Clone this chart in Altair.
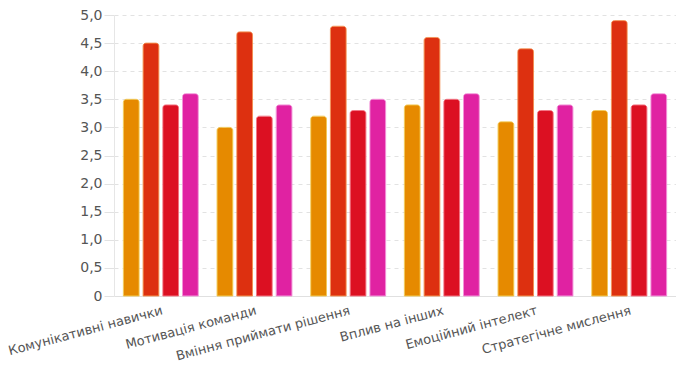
import altair as alt
import pandas as pd

categories = ["Комунікативні навички", "Мотивація команди", "Вміння приймати рішення",
              "Вплив на інших", "Емоційний інтелект", "Стратегічне мислення"]
series = ["Серія 1", "Серія 2", "Серія 3", "Серія 4"]
values = {
    "Серія 1": [3.5, 3.0, 3.2, 3.4, 3.1, 3.3],
    "Серія 2": [4.5, 4.7, 4.8, 4.6, 4.4, 4.9],
    "Серія 3": [3.4, 3.2, 3.3, 3.5, 3.3, 3.4],
    "Серія 4": [3.6, 3.4, 3.5, 3.6, 3.4, 3.6],
}
colors = ["#E68A00", "#DD3010", "#DC1022", "#E022A2"]
edges = ["#F0C040", "#F08040", "#F06070", "#F080D0"]

rows = []
for s in series:
    for c, v in zip(categories, values[s]):
        rows.append({"cat": c, "series": s, "value": v})
df = pd.DataFrame(rows)

chart = alt.Chart(df).mark_bar(
    cornerRadiusTopLeft=3, cornerRadiusTopRight=3, strokeWidth=0.8
).encode(
    x=alt.X("cat:N", sort=categories, title=None,
            scale=alt.Scale(paddingInner=0.2, paddingOuter=0.1),
            axis=alt.Axis(labelAngle=-15, labelAlign="right", labelBaseline="top",
                          labelFontSize=13, labelColor="#555", labelFont="DejaVu Sans",
                          ticks=False, domainColor="#e0e0e0", labelPadding=8,
                          labelLimit=300, labelOverlap=False)),
    xOffset=alt.XOffset("series:N", sort=series, scale=alt.Scale(paddingInner=0.2)),
    y=alt.Y("value:Q", title=None, scale=alt.Scale(domain=[0, 5]),
            axis=alt.Axis(values=[0, 0.5, 1, 1.5, 2, 2.5, 3, 3.5, 4, 4.5, 5],
                          labelExpr="datum.value == 0 ? '0' : replace(format(datum.value, '.1f'), '.', ',')",
                          labelFontSize=14, labelColor="#555", labelFont="DejaVu Sans",
                          ticks=True, tickSize=10, tickColor="#e2e2e2",
                          domainColor="#e6e6e6", gridColor="#e2e2e2",
                          gridDash=[4, 4], labelPadding=2)),
    color=alt.Color("series:N", sort=series, scale=alt.Scale(domain=series, range=colors), legend=None),
    stroke=alt.Stroke("series:N", sort=series, scale=alt.Scale(domain=series, range=edges), legend=None),
).properties(
    width=562, height=281,
    autosize=alt.AutoSizeParams(type="none"),
    padding={"left": 114, "top": 15, "right": 0, "bottom": 81},
).configure_view(stroke=None)

chart.save("out.html", embed_options={"renderer": "svg", "actions": False})
